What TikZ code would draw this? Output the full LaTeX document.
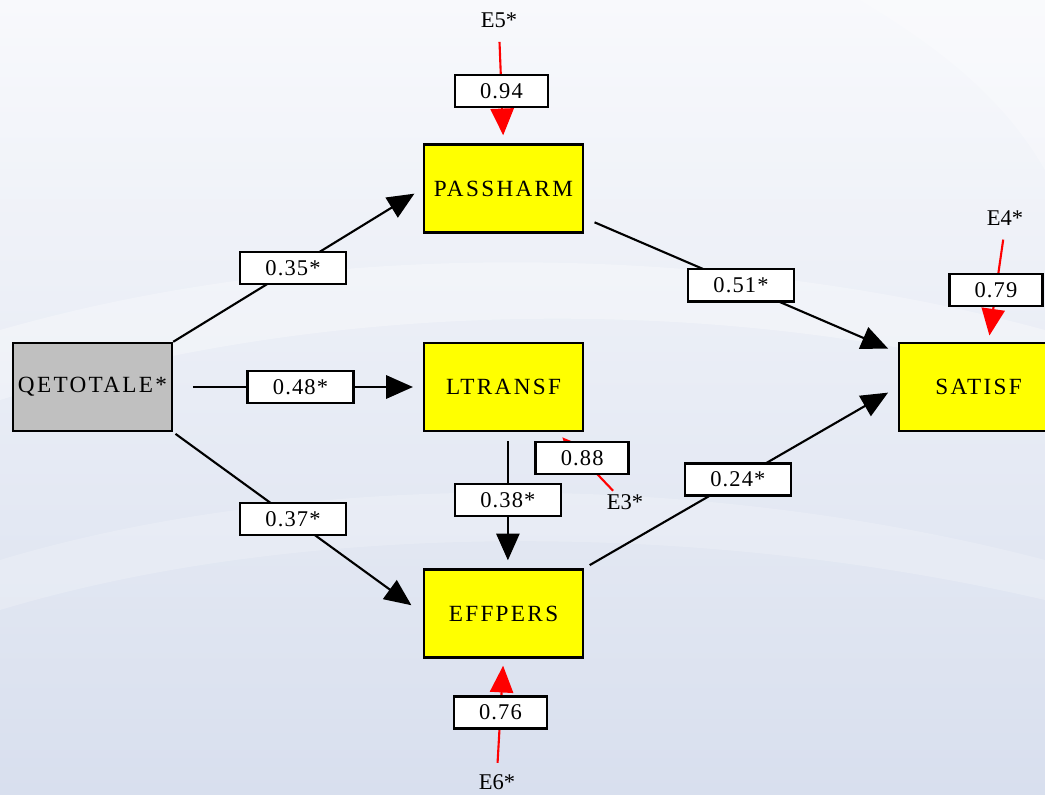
\documentclass[tikz,border=0pt]{standalone}
\usepackage{fontspec}
\setmainfont{Liberation Serif}
\newfontfamily\varfont{Liberation Serif}[LetterSpace=10]
\newfontfamily\coeffont{Liberation Serif}[LetterSpace=5]
\usetikzlibrary{arrows.meta}

\definecolor{bgtop}{HTML}{F8F9FC}
\definecolor{bgbot}{HTML}{D8DFEE}
\definecolor{varfill}{HTML}{FFFF00}
\definecolor{exofill}{HTML}{C0C0C0}

\begin{document}
\begin{tikzpicture}[x=0.025cm, y=-0.025cm, >={Triangle[length=19pt,width=16.5pt]},
    var/.style={draw, line width=1.7pt, fill=varfill, minimum width=3.975cm,
      minimum height=2.2cm, inner sep=0pt, font=\fontsize{16.5}{19}\selectfont\varfont},
    coef/.style={draw=black, text=black, line width=1.7pt, fill=white, minimum width=2.65cm,
      minimum height=0.8cm, inner sep=0pt, font=\fontsize{16}{19}\selectfont\coeffont},
    resid/.style={coef, minimum width=2.325cm},
    err/.style={inner sep=1pt, font=\fontsize{16}{19}\selectfont},
    path/.style={->, line width=1.5pt},
    errpath/.style={->, line width=1.5pt, red}]

    % Background
    \useasboundingbox (0,0) rectangle (1045,795);
    \shade[top color=bgtop, bottom color=bgbot] (0,0) rectangle (1045,795);
    \fill[white, opacity=0.3] (0,330) .. controls (350,230) and (750,250) .. (1045,330)
      -- (1045,380) .. controls (750,300) and (350,290) .. (0,400) -- cycle;
    \fill[white, opacity=0.25] (860,0) .. controls (960,60) and (1010,110) .. (1045,170)
      -- (1045,0) -- cycle;
    \fill[white, opacity=0.2] (0,560) .. controls (300,470) and (700,470) .. (1045,560)
      -- (1045,600) .. controls (700,520) and (300,520) .. (0,610) -- cycle;

    % Nodes
    \node (QE) [var, fill=exofill] at (92.5,387) {QETOTALE*};
    \node (PASS) [var] at (503.5,188.5) {PASSHARM};
    \node (LT) [var] at (503.5,387) {LTRANSF};
    \node (EFF) [var] at (503.5,613.5) {EFFPERS};
    \node (SAT) [var] at (978.5,387) {SATISF};
    \node (E5) [err] at (499,20) {E5*};
    \node (E4) [err] at (1005,218) {E4*};
    \node (E3) [err] at (625,502) {E3*};
    \node (E6) [err] at (497,782) {E6*};

    % Arrows
    \draw[path, shorten >=7pt] (QE.north east) -- node[coef, pos=0.48] (c35) {0.35*} (PASS.west);
    \draw[path, shorten <=14pt, shorten >=7pt] (QE.east) -- node[coef, pos=0.51] (c48) {0.48*} (LT.west);
    \draw[path, shorten <=2pt, shorten >=10pt] (QE.south east) -- node[coef, pos=0.48] (c37) {0.37*} (EFF.west);
    \draw[path, shorten <=8pt, shorten >=7.5pt] (PASS.-20) -- node[coef, pos=0.5] (c51) {0.51*} (SAT.157);
    \draw[path, shorten <=4.5pt, shorten >=8pt] (EFF.north east) -- node[coef, pos=0.49] (c24) {0.24*} (SAT.west);
    \draw[path, shorten <=6.4pt, shorten >=5.7pt] ([xshift=0.11cm]LT.south) -- node[coef, pos=0.5] (c38) {0.38*} ([xshift=0.11cm]EFF.north);

    \draw[errpath, shorten <=9pt, shorten >=5.7pt] (E5.south) -- node[resid, pos=0.54] (r94) {0.94} (PASS.north);
    \draw[errpath, shorten <=9pt, shorten >=4.5pt] (E4.south) -- node[resid, pos=0.55] (r79) {0.79} ([xshift=0.25cm]SAT.north);
    \draw[errpath, shorten <=2pt, shorten >=5pt] ([xshift=-0.25cm]E3.north) -- node[resid, pos=0.57] (r88) {0.88} (LT.-40);
    \draw[errpath, shorten <=7pt, shorten >=5pt] (E6.north) -- node[resid, pos=0.53] (r76) {0.76} (EFF.south);
\end{tikzpicture}
\end{document}
